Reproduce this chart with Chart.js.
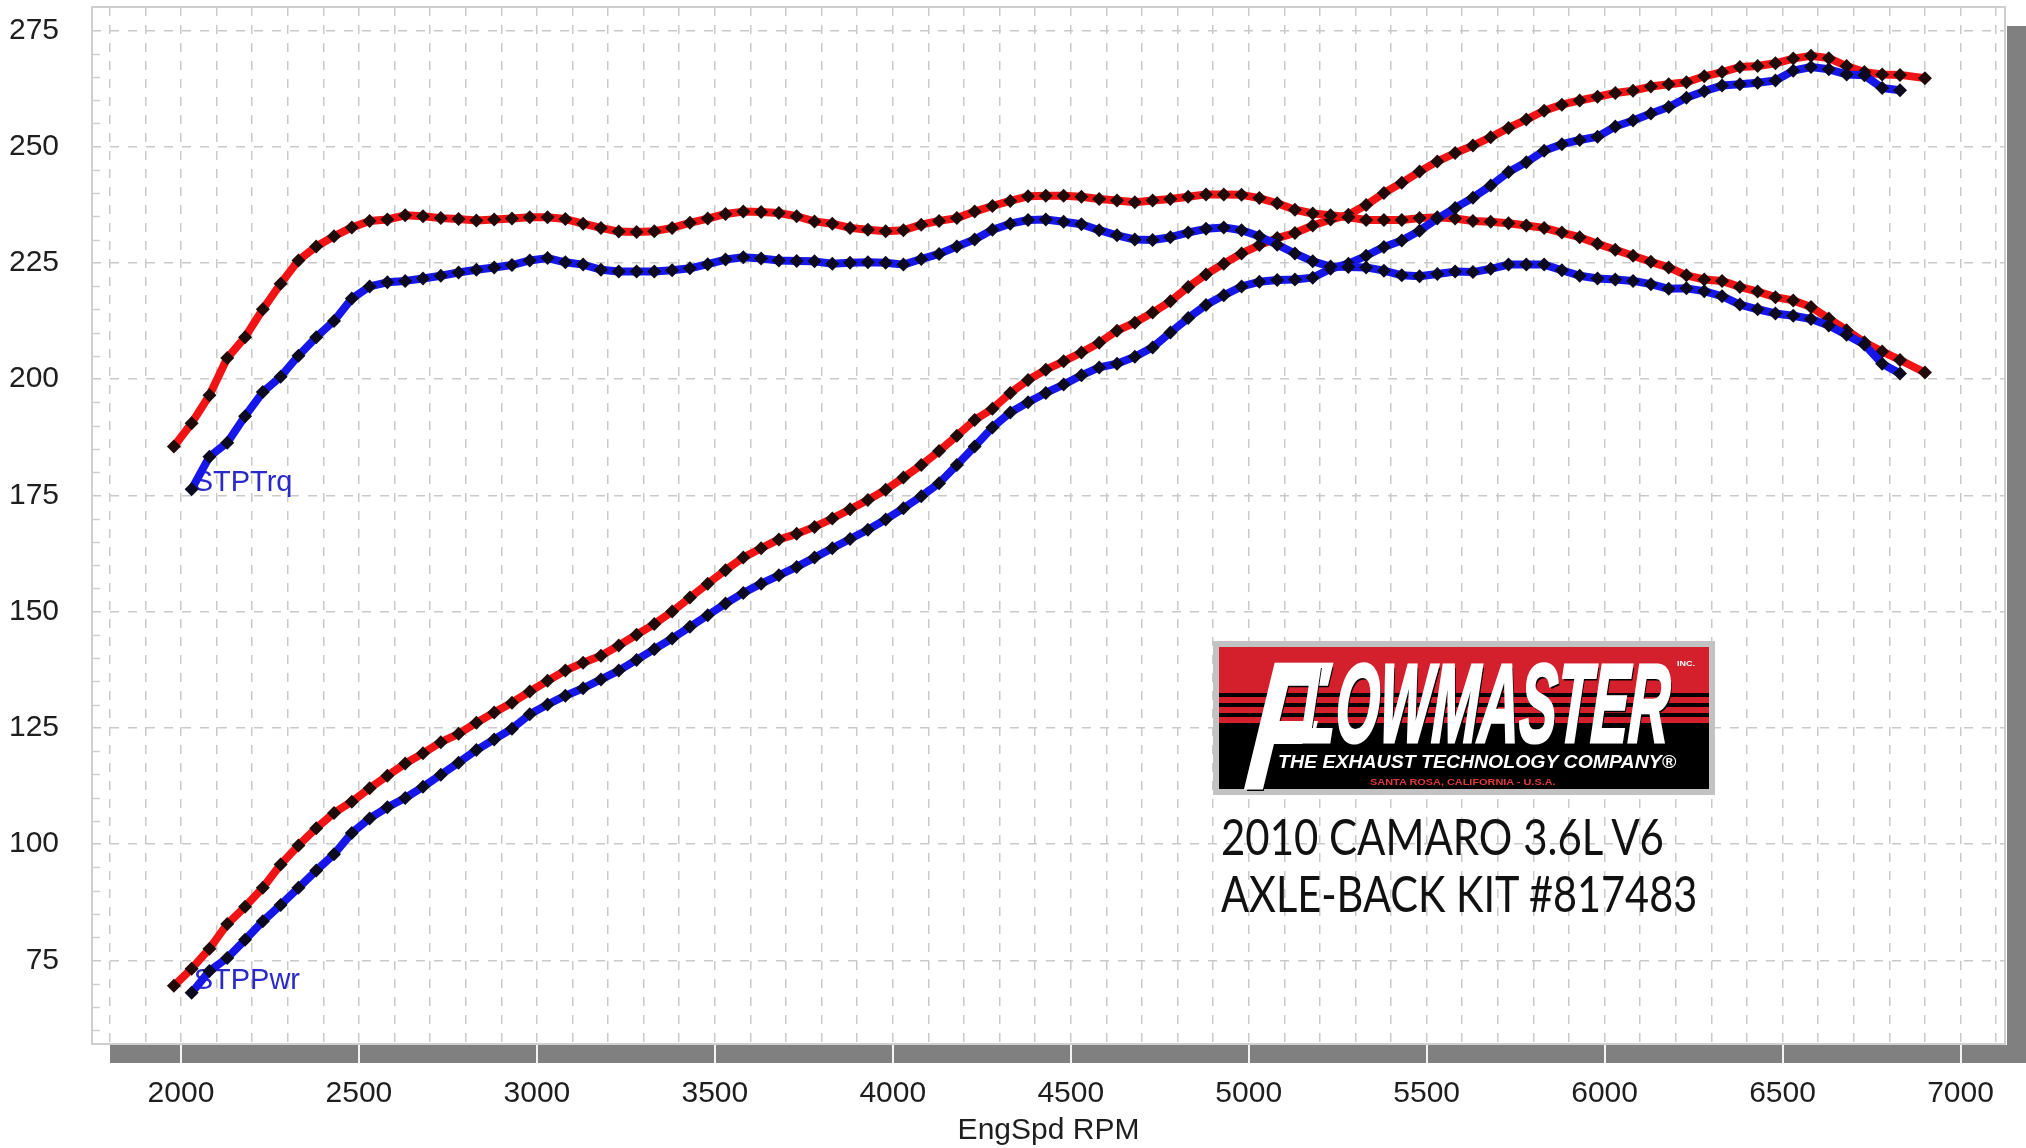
<!DOCTYPE html>
<html>
<head>
<meta charset="utf-8">
<title>2010 Camaro 3.6L V6 - Axle-Back Kit #817483</title>
<script src="https://cdn.jsdelivr.net/npm/chart.js@4.4.1/dist/chart.umd.min.js"></script>
<style>
  html, body { margin: 0; padding: 0; background: #fff; }
  body { width: 2026px; height: 1148px; position: relative; overflow: hidden; }
  #dyno { position: absolute; left: 0; top: 0; }
  .fit { position: absolute; white-space: nowrap; line-height: 1; transform-origin: 0 100%; }
  #logo {
    position: absolute; left: 1213px; top: 641px; width: 502px; height: 154px;
    box-sizing: border-box; border: 6px solid #c2c2c2;
    background:
      repeating-linear-gradient(to bottom, #d3202c 0 6px, #000 6px 10px) 0 40px / 100% 40px no-repeat,
      linear-gradient(to bottom, #d3202c 0 80px, #000 80px);
  }
  .fm { font-family: "Liberation Sans", sans-serif; font-weight: bold; font-style: italic; color: #fff;
        -webkit-text-stroke: 3px #fff; text-shadow: 3px 3px 0 #000; }
  .fm-small { font-family: "Liberation Sans", sans-serif; font-weight: bold; }
  .caption { font-family: Lato, "Open Sans", sans-serif; font-size: 50px; color: #111; }
</style>
</head>
<body>
<canvas id="dyno" width="2026" height="1148"></canvas>

<div id="logo"></div>
<span class="fit fm" style="left:1240px; top:636px; font-size:180px;" data-w="72" data-skew="-10">F</span>
<span class="fit fm" style="left:1299px; top:648px; font-size:112px;" data-w="368" data-skew="-6">LOWMASTER</span>
<span class="fit fm-small" style="left:1271px; top:731px; font-size:11px; color:#fff;">®</span>
<span class="fit fm-small" style="left:1677px; top:660px; font-size:8px; color:#fff;" data-w="18">INC.</span>
<span class="fit fm-small" style="left:1278px; top:752px; font-size:19px; font-style:italic; color:#fff;" data-w="398">THE EXHAUST TECHNOLOGY COMPANY®</span>
<span class="fit fm-small" style="left:1370px; top:777px; font-size:9.5px; color:#e23a3a;" data-w="186">SANTA ROSA, CALIFORNIA - U.S.A.</span>

<span class="fit caption" style="left:1221px; top:811px;" data-w="443">2010 CAMARO 3.6L V6</span>
<span class="fit caption" style="left:1221px; top:868px;" data-w="476">AXLE-BACK KIT #817483</span>

<script>
// engine speed (rpm) at each logged sample
const rpm = [
  1980, 2030, 2080, 2130, 2180, 2230, 2280, 2330, 2380, 2430,
  2480, 2530, 2580, 2630, 2680, 2730, 2780, 2830, 2880, 2930,
  2980, 3030, 3080, 3130, 3180, 3230, 3280, 3330, 3380, 3430,
  3480, 3530, 3580, 3630, 3680, 3730, 3780, 3830, 3880, 3930,
  3980, 4030, 4080, 4130, 4180, 4230, 4280, 4330, 4380, 4430,
  4480, 4530, 4580, 4630, 4680, 4730, 4780, 4830, 4880, 4930,
  4980, 5030, 5080, 5130, 5180, 5230, 5280, 5330, 5380, 5430,
  5480, 5530, 5580, 5630, 5680, 5730, 5780, 5830, 5880, 5930,
  5980, 6030, 6080, 6130, 6180, 6230, 6280, 6330, 6380, 6430,
  6480, 6530, 6580, 6630, 6680, 6730, 6780, 6830, 6900
];

// red run (with axle-back kit)
const redTorque = [
  185.5, 190.5, 196.5, 204.5, 209, 215, 220.5, 225.5, 228.5, 230.7,
  232.6, 234, 234.3, 235.2, 235, 234.6, 234.4, 234.1, 234.3, 234.5,
  234.8, 234.8, 234.4, 233.4, 232.5, 231.7, 231.6, 231.8, 232.5, 233.6,
  234.5, 235.5, 236, 235.9, 235.7, 235, 233.9, 233.4, 232.5, 232.1,
  231.8, 232, 233.2, 234, 234.6, 236, 237.2, 238.3, 239.3, 239.4,
  239.4, 239.2, 238.7, 238.4, 238, 238.4, 238.7, 239.2, 239.7, 239.7,
  239.6, 238.9, 237.8, 236.4, 235.6, 235.2, 234.8, 234.2, 234.2, 234.2,
  234.6, 234.8, 234.5, 234, 233.8, 233.5, 233, 232.5, 231.5, 230.5,
  229.1, 227.8, 226.5, 225.2, 224, 222.3, 221.4, 221.1, 219.8, 218.8,
  217.6, 216.9, 215.5, 213, 210.5, 207.9, 205.9, 204.1, 201.4
];
const redPower = [
  69.5, 73.2, 77.5, 82.8, 86.5, 90.6, 95.6, 99.7, 103.4, 106.7,
  109.1, 112, 114.7, 117.3, 119.5, 121.9, 123.7, 126.1, 128.3, 130.4,
  132.8, 135.1, 137.3, 139, 140.5, 142.7, 145, 147.3, 150, 153,
  156, 158.9, 161.6, 163.6, 165.5, 166.7, 168.2, 170, 172, 174,
  176.2, 178.8, 181.5, 184.5, 187.8, 191.2, 193.6, 197, 199.8, 202,
  203.8, 205.7, 207.8, 210.4, 212.1, 214.3, 216.7, 219.8, 222.5, 224.8,
  227, 228.8, 230.3, 231.4, 233, 234.3, 235.3, 237.4, 240, 242.2,
  244.6, 246.8, 248.6, 250.2, 252, 254, 255.8, 257.7, 259, 259.9,
  260.7, 261.5, 262, 262.9, 263.4, 263.8, 265.1, 266, 267.1, 267.3,
  267.9, 268.9, 269.5, 269, 267.3, 266, 265.5, 265.4, 264.7
];

// blue run (stock)
const blueTorque = [
  null, 176.3, 183.3, 186.3, 192, 197.2, 200.5, 205, 209, 212.5,
  217.3, 219.9, 220.8, 221.1, 221.6, 222.2, 222.9, 223.5, 224, 224.5,
  225.5, 226, 225.1, 224.6, 223.5, 223.1, 223.1, 223.1, 223.4, 223.8,
  224.7, 225.7, 226.2, 225.9, 225.5, 225.4, 225.3, 224.8, 225, 225.1,
  225, 224.6, 225.8, 226.9, 228.5, 230, 232.1, 233.4, 234.2, 234.3,
  233.8, 233.3, 232, 230.9, 230, 229.9, 230.5, 231.5, 232.3, 232.6,
  232, 230.7, 228.9, 227, 225.3, 224.2, 224.1, 224, 223.3, 222.3,
  222.1, 222.6, 223.1, 223, 223.7, 224.6, 224.6, 224.6, 223.4, 222.2,
  221.6, 221.4, 221.1, 220.4, 219.4, 219.5, 218.9, 217.8, 216, 215,
  214.1, 213.6, 212.9, 211.5, 209.5, 207.4, 203.3, 201.2, null
];
const bluePower = [
  null, 68, 72.7, 75.5, 79.4, 83.4, 86.9, 90.6, 94.3, 97.8,
  102.4, 105.5, 107.9, 109.9, 112.3, 114.9, 117.5, 120.2, 122.5, 124.8,
  127.9, 130, 131.9, 133.5, 135.4, 137.3, 139.6, 141.9, 144.2, 146.7,
  149.2, 151.7, 154, 156, 157.8, 159.6, 161.6, 163.6, 165.6, 167.6,
  169.8, 172.2, 174.8, 177.6, 181.5, 185.5, 189.6, 192.8, 195, 197,
  198.8, 200.8, 202.5, 203.3, 204.8, 206.8, 210, 213.1, 215.9, 218,
  219.9, 220.9, 221.3, 221.4, 221.8, 223.7, 224.8, 226.5, 228.4, 229.8,
  231.9, 234.5, 236.8, 239, 241.6, 244.5, 246.6, 249.1, 250.5, 251.4,
  252.1, 254.3, 255.6, 257.1, 258.5, 260.5, 261.9, 263.1, 263.4, 263.7,
  264.2, 266.3, 267.1, 266.6, 265.5, 265.3, 262.6, 262.1, null
];

// labelled ticks
const xTicks = [2000, 2500, 3000, 3500, 4000, 4500, 5000, 5500, 6000, 6500, 7000];
const yTicks = [75, 100, 125, 150, 175, 200, 225, 250, 275];

const axisFont = { family: "'Liberation Sans', Arial, sans-serif", size: 30 };
const gridColor = "#c9c9c9";

function toPoints(values) {
  return rpm.map((r, i) => ({ x: r, y: values[i] }));
}

function runLine(values, color, marker, order) {
  return {
    data: toPoints(values),
    borderColor: color,
    borderWidth: 8,
    borderJoinStyle: "round",
    borderCapStyle: "round",
    pointStyle: "rectRot",
    pointRadius: 7,
    pointBackgroundColor: marker,
    pointBorderWidth: 0,
    tension: 0,
    spanGaps: false,
    order: order,
  };
}

// gray drop shadow, plot frame, minor marks and the curve names
const dynoFrame = {
  id: "dynoFrame",
  beforeDraw(chart) {
    const { ctx, chartArea: a, scales } = chart;
    ctx.save();
    ctx.fillStyle = "#fff";
    ctx.fillRect(0, 0, chart.width, chart.height);

    ctx.fillStyle = "#808080";
    ctx.fillRect(a.left + 18, a.bottom + 1, chart.width - a.left - 18, 18);
    ctx.fillRect(a.right + 2, a.top + 19, chart.width - a.right - 2, a.bottom - a.top);

    ctx.strokeStyle = "#f4f4f4";
    ctx.lineWidth = 2;
    xTicks.forEach((v) => {
      const px = Math.round(scales.x.getPixelForValue(v));
      ctx.beginPath();
      ctx.moveTo(px, a.bottom + 1);
      ctx.lineTo(px, a.bottom + 19);
      ctx.stroke();
    });
    ctx.restore();
  },
  beforeDatasetsDraw(chart) {
    const { ctx, chartArea: a, scales } = chart;
    ctx.save();
    ctx.strokeStyle = "#cfcfcf";
    ctx.lineWidth = 2;
    ctx.strokeRect(a.left, a.top, a.right - a.left, a.bottom - a.top);

    ctx.lineWidth = 1.5;
    for (let v = 60; v < 280; v += 5) {
      if (yTicks.includes(v)) continue;
      const py = Math.round(scales.y.getPixelForValue(v)) + 0.5;
      ctx.beginPath();
      ctx.moveTo(a.left + 1, py);
      ctx.lineTo(a.left + 8, py);
      ctx.stroke();
    }

    ctx.fillStyle = "#2a2ac8";
    ctx.font = "29px 'Liberation Sans', Arial, sans-serif";
    ctx.textBaseline = "middle";
    const trq = chart.getDatasetMeta(0).data[1];
    const pwr = chart.getDatasetMeta(1).data[1];
    ctx.fillText("STPTrq", trq.x + 2, trq.y - 6);
    ctx.fillText("STPPwr", pwr.x + 2, pwr.y - 12);
    ctx.restore();
  },
};

new Chart(document.getElementById("dyno").getContext("2d"), {
  type: "line",
  data: {
    datasets: [
      runLine(blueTorque, "#1616ea", "#0c0a20", 0),
      runLine(bluePower, "#1616ea", "#0c0a20", 0),
      runLine(redTorque, "#f21414", "#200a0a", 1),
      runLine(redPower, "#f21414", "#200a0a", 1),
    ],
  },
  options: {
    responsive: false,
    animation: false,
    layout: { padding: { left: 0, right: 21, top: 4, bottom: 0 } },
    plugins: {
      legend: { display: false },
      tooltip: { enabled: false },
    },
    scales: {
      x: {
        type: "linear",
        min: 1750,
        max: 7125,
        afterBuildTicks: (scale) => {
          // a dashed grid line every 100 rpm, labels only on the 500s
          const ticks = [];
          for (let v = 1800; v <= 7100; v += 100) ticks.push({ value: v });
          scale.ticks = ticks;
        },
        afterFit: (scale) => {
          scale.height = 104;
          scale.paddingLeft = 0;
          scale.paddingRight = 0;
        },
        border: { display: false, dash: [9, 9] },
        grid: { drawTicks: false, lineWidth: 1.5, color: gridColor },
        ticks: {
          autoSkip: false,
          maxRotation: 0,
          minRotation: 0,
          padding: 32,
          color: "#1e1e1e",
          font: axisFont,
          callback: (v) => (xTicks.includes(v) ? String(v) : ""),
        },
        title: {
          display: true,
          text: "EngSpd RPM",
          color: "#1e1e1e",
          font: { ...axisFont, lineHeight: 1 },
          padding: { top: 0, bottom: 2 },
        },
      },
      y: {
        min: 57,
        max: 280,
        afterBuildTicks: (scale) => {
          scale.ticks = yTicks.map((v) => ({ value: v }));
        },
        afterFit: (scale) => {
          scale.width = 92;
          scale.paddingTop = 0;
          scale.paddingBottom = 0;
        },
        border: { display: false, dash: [9, 9] },
        grid: { drawTicks: false, lineWidth: 1.5, color: gridColor },
        ticks: {
          autoSkip: false,
          padding: 33,
          color: "#1e1e1e",
          font: axisFont,
        },
      },
    },
  },
  plugins: [dynoFrame],
});

// squeeze the overlay texts to the widths they take in the original graphic
document.fonts.ready.then(() => {
  document.querySelectorAll(".fit[data-w]").forEach((el) => {
    const target = parseFloat(el.dataset.w);
    const s = target / el.offsetWidth;
    let t = "scaleX(" + s.toFixed(3) + ")";
    if (el.dataset.skew) t += " skewX(" + el.dataset.skew + "deg)";
    el.style.transform = t;
  });
});
</script>
</body>
</html>
